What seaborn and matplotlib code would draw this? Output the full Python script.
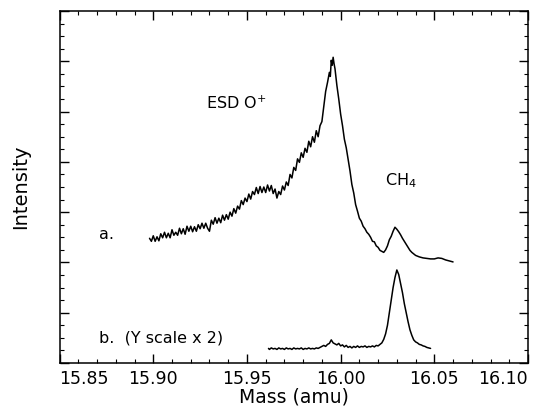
import numpy as np
import pandas as pd
import matplotlib
matplotlib.use("Agg")
import matplotlib.pyplot as plt
from matplotlib.ticker import MultipleLocator
import seaborn as sns

# ---- data ----
mass_a = [15.898, 15.899, 15.900, 15.901, 15.902, 15.903, 15.904, 15.905, 15.906, 15.907,
          15.908, 15.909, 15.910, 15.911, 15.912, 15.913, 15.914, 15.915, 15.916, 15.917,
          15.918, 15.919, 15.920, 15.921, 15.922, 15.923, 15.924, 15.925, 15.926, 15.927,
          15.928, 15.929, 15.930, 15.931, 15.932, 15.933, 15.934, 15.935, 15.936, 15.937,
          15.938, 15.939, 15.940, 15.941, 15.942, 15.943, 15.944, 15.945, 15.946, 15.947,
          15.948, 15.949, 15.950, 15.951, 15.952, 15.953, 15.954, 15.955, 15.956, 15.957,
          15.958, 15.959, 15.960, 15.961, 15.962, 15.963, 15.964, 15.965, 15.966, 15.967,
          15.968, 15.969, 15.970, 15.971, 15.972, 15.973, 15.974, 15.975, 15.976, 15.977,
          15.978, 15.979, 15.980, 15.981, 15.982, 15.983, 15.984, 15.985, 15.986, 15.987,
          15.988, 15.989, 15.990, 15.991, 15.992, 15.993, 15.994, 15.9945, 15.995, 15.9955,
          15.996, 15.9965, 15.997, 15.998, 15.999, 16.000, 16.001, 16.002, 16.003, 16.004,
          16.005, 16.006, 16.007, 16.008, 16.009, 16.010, 16.011, 16.012, 16.013, 16.014,
          16.015, 16.016, 16.017, 16.018, 16.019, 16.020, 16.021, 16.022, 16.023, 16.024,
          16.025, 16.026, 16.027, 16.028, 16.029, 16.030, 16.031, 16.032, 16.033, 16.034,
          16.035, 16.036, 16.037, 16.038, 16.039, 16.040, 16.042, 16.044, 16.046, 16.048,
          16.050, 16.052, 16.054, 16.056, 16.058, 16.060]
int_a = [2.48, 2.42, 2.53, 2.42, 2.51, 2.43, 2.57, 2.49, 2.60, 2.49,
         2.58, 2.49, 2.65, 2.54, 2.60, 2.54, 2.68, 2.57, 2.67, 2.56,
         2.72, 2.62, 2.72, 2.61, 2.71, 2.62, 2.75, 2.67, 2.78, 2.68,
         2.78, 2.68, 2.62, 2.84, 2.76, 2.89, 2.78, 2.88, 2.79, 2.94,
         2.84, 2.95, 2.86, 3.00, 2.92, 3.07, 2.98, 3.12, 3.06, 3.23,
         3.15, 3.28, 3.21, 3.36, 3.26, 3.41, 3.35, 3.49, 3.37, 3.51,
         3.39, 3.50, 3.39, 3.54, 3.42, 3.53, 3.37, 3.46, 3.28, 3.41,
         3.35, 3.52, 3.44, 3.60, 3.53, 3.75, 3.68, 3.89, 3.83, 4.06,
         3.99, 4.18, 4.09, 4.27, 4.19, 4.41, 4.30, 4.50, 4.39, 4.62,
         4.50, 4.72, 4.80, 5.10, 5.40, 5.58, 5.78, 5.70, 6.02, 5.92,
         6.08, 5.95, 5.85, 5.52, 5.25, 4.95, 4.72, 4.45, 4.28, 4.05,
         3.82, 3.55, 3.38, 3.15, 3.02, 2.88, 2.82, 2.72, 2.67, 2.60,
         2.56, 2.50, 2.42, 2.41, 2.33, 2.30, 2.24, 2.22, 2.20, 2.25,
         2.33, 2.45, 2.52, 2.62, 2.70, 2.66, 2.61, 2.55, 2.48, 2.42,
         2.36, 2.30, 2.24, 2.20, 2.17, 2.14, 2.11, 2.09, 2.08, 2.07,
         2.07, 2.09, 2.08, 2.05, 2.03, 2.01]

mass_b = [15.9615, 15.962, 15.963, 15.964, 15.965, 15.966, 15.967, 15.968, 15.969, 15.970,
          15.971, 15.972, 15.973, 15.974, 15.975, 15.976, 15.977, 15.978, 15.979, 15.980,
          15.981, 15.982, 15.983, 15.984, 15.985, 15.986, 15.987, 15.988, 15.989, 15.990,
          15.991, 15.992, 15.993, 15.994, 15.995, 15.996, 15.997, 15.998, 15.999, 16.000,
          16.001, 16.002, 16.003, 16.004, 16.005, 16.006, 16.007, 16.008, 16.009, 16.010,
          16.011, 16.012, 16.013, 16.014, 16.015, 16.016, 16.017, 16.018, 16.019, 16.020,
          16.021, 16.022, 16.023, 16.024, 16.025, 16.026, 16.027, 16.028, 16.029, 16.030,
          16.031, 16.032, 16.033, 16.034, 16.035, 16.036, 16.037, 16.038, 16.039, 16.040,
          16.041, 16.042, 16.043, 16.044, 16.045, 16.046, 16.047, 16.048]
int_b = [0.29, 0.27, 0.30, 0.28, 0.29, 0.27, 0.30, 0.28, 0.29, 0.27,
         0.30, 0.28, 0.29, 0.27, 0.30, 0.28, 0.29, 0.28, 0.30, 0.27,
         0.29, 0.28, 0.30, 0.28, 0.29, 0.28, 0.30, 0.29, 0.31, 0.33,
         0.35, 0.33, 0.37, 0.39, 0.46, 0.40, 0.38, 0.36, 0.39, 0.34,
         0.36, 0.32, 0.35, 0.31, 0.33, 0.30, 0.33, 0.31, 0.34, 0.31,
         0.33, 0.32, 0.34, 0.31, 0.33, 0.32, 0.34, 0.32, 0.35, 0.34,
         0.37, 0.40, 0.47, 0.58, 0.75, 1.00, 1.25, 1.50, 1.70, 1.85,
         1.76, 1.58, 1.40, 1.18, 1.00, 0.82, 0.66, 0.55, 0.46, 0.42,
         0.40, 0.37, 0.36, 0.34, 0.33, 0.31, 0.30, 0.29]

x_ticks = [15.85, 15.90, 15.95, 16.00, 16.05, 16.10]
x_labels = ["15.85", "15.90", "15.95", "16.00", "16.05", "16.10"]

df_a = pd.DataFrame({"mass": mass_a, "intensity": int_a})
df_b = pd.DataFrame({"mass": mass_b, "intensity": int_b})

sns.set_style("white")
plt.rcParams["font.family"] = ["DejaVu Sans"]
plt.rcParams["text.color"] = "black"
plt.rcParams["axes.labelcolor"] = "black"
plt.rcParams["xtick.color"] = "black"
plt.rcParams["ytick.color"] = "black"

fig = plt.figure(figsize=(5.33, 4.08), dpi=100)
ax = fig.add_axes([0.1118, 0.1103, 0.9906 - 0.1118, 0.973 - 0.1103])

sns.lineplot(data=df_a, x="mass", y="intensity", ax=ax, color="black",
             linewidth=1.1, estimator=None, sort=False)
sns.lineplot(data=df_b, x="mass", y="intensity", ax=ax, color="black",
             linewidth=1.1, estimator=None, sort=False)

ax.set_xlim(15.85, 16.10)
ax.set_ylim(0, 7)
ax.set_xticks(x_ticks)
ax.set_xticklabels(x_labels, fontsize=12.5)
lbls = ax.get_xticklabels()
lbls[0].set_horizontalalignment("left")
lbls[-1].set_horizontalalignment("right")
ax.xaxis.set_minor_locator(MultipleLocator(0.01))
ax.yaxis.set_major_locator(MultipleLocator(1))
ax.yaxis.set_minor_locator(MultipleLocator(0.25))
ax.set_yticklabels([])
ax.tick_params(which="both", direction="in", top=True, right=True,
               left=True, bottom=True, color="black")
ax.tick_params(which="major", length=6.5, width=1.0, pad=5)
ax.tick_params(which="minor", length=3, width=0.8)
for s in ax.spines.values():
    s.set_color("black")
    s.set_linewidth(1.1)

ax.set_xlabel("Mass (amu)", fontsize=13.5, labelpad=0)
ax.set_ylabel("Intensity", fontsize=14, labelpad=16)

ax.text(15.928, 5.17, "ESD O$^{+}$", fontsize=11.5, va="center", ha="left")
ax.text(16.0236, 3.62, "CH$_4$", fontsize=11.5, va="center", ha="left")
ax.text(15.871, 2.55, "a.", fontsize=11.5, va="center", ha="left")
ax.text(15.871, 0.49, "b.  (Y scale x 2)", fontsize=11.5, va="center", ha="left")

fig.savefig("out.png", dpi=100)
